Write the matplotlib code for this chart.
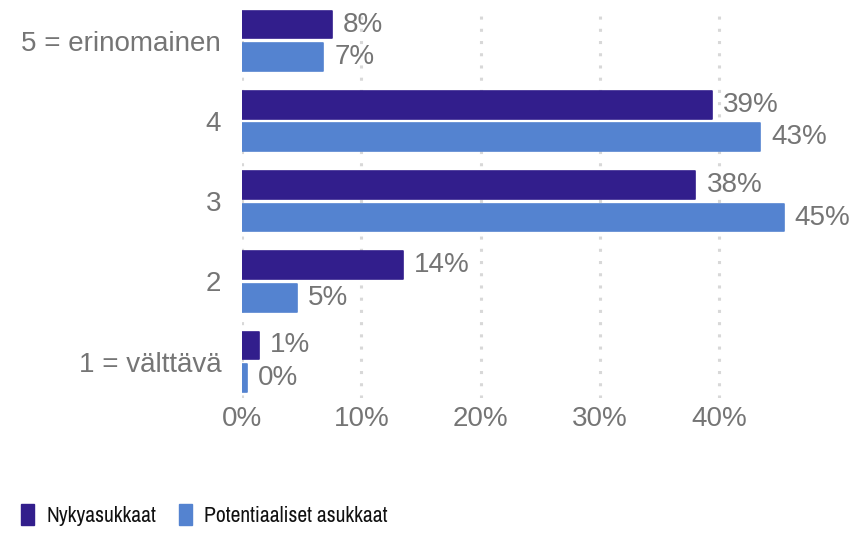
import matplotlib.pyplot as plt
from matplotlib import font_manager
from matplotlib.patches import Patch

categories = ["5 = erinomainen", "4", "3", "2", "1 = välttävä"]
nyky = [7.5, 39.4, 38.0, 13.5, 1.4]
potent = [6.8, 43.4, 45.4, 4.6, 0.4]
nyky_labels = ["8%", "39%", "38%", "14%", "1%"]
potent_labels = ["7%", "43%", "45%", "5%", "0%"]
xticks = [0, 10, 20, 30, 40]
xtick_labels = ["0%", "10%", "20%", "30%", "40%"]
series_names = ["Nykyasukkaat", "Potentiaaliset asukkaat"]

dark = "#321e8c"
light = "#5483d0"
grey = "#757575"

# legend text in the original is a narrow face; use one if it is there
legend_prop = {"family": "Liberation Sans", "size": 12.5}
fonts = font_manager.fontManager.ttflist
narrow = [f for f in fonts if "Narrow" in f.name]
condensed = [f for f in fonts if f.stretch in ("condensed", "semi-condensed", 400)]
if narrow:
    legend_prop = {"family": narrow[0].name, "size": 15.5}
elif condensed:
    legend_prop = {"fname": condensed[0].fname, "size": 14.5}

plt.rcParams["font.family"] = ["Liberation Sans", "DejaVu Sans"]

fig = plt.figure(figsize=(8.54, 5.34), dpi=100)
ax = fig.add_axes([0.2834, 0.2547, 0.6706, 0.7303])

ypos = [4, 3, 2, 1, 0]
h = 0.345
off = 0.203
y_dark = [y + off for y in ypos]
y_light = [y - off for y in ypos]

b1 = ax.barh(y_dark, nyky, height=h, color=dark, edgecolor=dark, linewidth=1.2, joinstyle="round", zorder=3)
b2 = ax.barh(y_light, potent, height=h, color=light, edgecolor=light, linewidth=1.2, joinstyle="round", zorder=3)

for bars, labels in ((b1, nyky_labels), (b2, potent_labels)):
    for bar, lab in zip(bars, labels):
        ax.annotate(lab, (bar.get_width(), bar.get_y() + bar.get_height() / 2),
                    xytext=(8, 0), textcoords="offset points", va="center", ha="left",
                    fontsize=20, color=grey)

ax.set_xlim(0, 48)
ax.set_ylim(-0.4526, 4.409)
ax.set_xticks(xticks)
ax.set_xticklabels(xtick_labels)
ax.set_yticks(ypos)
ax.set_yticklabels(categories)
ax.tick_params(axis="both", length=0, labelsize=20, labelcolor=grey)
ax.tick_params(axis="x", pad=6)
ax.tick_params(axis="y", pad=15)
ax.grid(axis="x", color="#d8d8d8", linestyle=(0, (1, 3)), linewidth=2.2, zorder=0)
for s in ax.spines.values():
    s.set_visible(False)

if "fname" in legend_prop:
    lp = font_manager.FontProperties(fname=legend_prop["fname"], size=legend_prop["size"])
else:
    lp = font_manager.FontProperties(family=legend_prop["family"], size=legend_prop["size"])

handles = [Patch(facecolor=dark, edgecolor=dark), Patch(facecolor=light, edgecolor=light)]
fig.legend(handles, series_names, loc="center left", bbox_to_anchor=(0.002, 0.036),
           frameon=False, ncol=2, prop=lp,
           handlelength=0.62, handleheight=1.1, handletextpad=0.55, columnspacing=1.05,
           labelcolor="#111111")

fig.savefig("out.png", dpi=100)
